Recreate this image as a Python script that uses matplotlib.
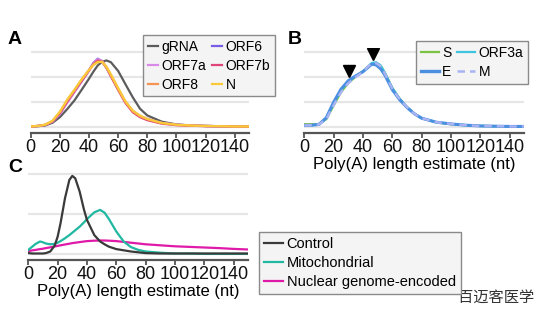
import matplotlib
matplotlib.use("Agg")
import matplotlib.pyplot as plt
from matplotlib.lines import Line2D

plt.rcParams['font.family'] = ['Liberation Sans', 'DejaVu Sans']

W, H = 541, 322

# ---------------- data ----------------
nt_ab = [0, 5, 10, 15, 20, 25, 30, 35, 40, 43, 46, 49, 52, 55, 60, 65, 70, 75, 80, 90, 100, 110, 120, 130, 140, 150]

grna  = [0.01, 0.02, 0.05, 0.16, 0.38, 0.70, 1.05, 1.48, 1.92, 2.20, 2.45, 2.60, 2.65, 2.58, 2.23, 1.70, 1.18, 0.72, 0.45, 0.20, 0.09, 0.05, 0.03, 0.02, 0.01, 0.01]
orf6  = [0.01, 0.03, 0.07, 0.20, 0.52, 0.98, 1.40, 1.82, 2.26, 2.55, 2.72, 2.62, 2.35, 2.03, 1.50, 0.98, 0.62, 0.42, 0.30, 0.15, 0.08, 0.05, 0.03, 0.02, 0.01, 0.01]
orf7a = [0.01, 0.03, 0.07, 0.20, 0.50, 0.95, 1.38, 1.80, 2.25, 2.53, 2.70, 2.64, 2.38, 2.06, 1.52, 1.00, 0.63, 0.43, 0.31, 0.15, 0.08, 0.05, 0.03, 0.02, 0.01, 0.01]
orf7b = [0.01, 0.03, 0.07, 0.21, 0.54, 1.00, 1.42, 1.84, 2.24, 2.50, 2.65, 2.60, 2.36, 2.02, 1.47, 0.95, 0.58, 0.38, 0.26, 0.12, 0.06, 0.04, 0.02, 0.02, 0.01, 0.01]
orf8  = [0.01, 0.03, 0.08, 0.23, 0.58, 1.05, 1.46, 1.88, 2.27, 2.48, 2.60, 2.58, 2.36, 2.05, 1.50, 0.98, 0.62, 0.42, 0.30, 0.14, 0.07, 0.04, 0.03, 0.02, 0.01, 0.01]
n_orf = [0.01, 0.03, 0.08, 0.24, 0.60, 1.08, 1.48, 1.90, 2.27, 2.47, 2.58, 2.60, 2.40, 2.10, 1.55, 1.02, 0.65, 0.44, 0.31, 0.15, 0.08, 0.05, 0.03, 0.02, 0.01, 0.01]

s_orf  = [0.10, 0.10, 0.11, 0.30, 0.85, 1.38, 1.75, 2.00, 2.22, 2.38, 2.52, 2.56, 2.45, 2.15, 1.55, 1.12, 0.78, 0.52, 0.34, 0.17, 0.10, 0.06, 0.03, 0.02, 0.01, 0.01]
orf3a  = [0.05, 0.06, 0.09, 0.33, 0.92, 1.45, 1.80, 2.02, 2.22, 2.38, 2.55, 2.58, 2.45, 2.15, 1.55, 1.12, 0.78, 0.52, 0.34, 0.18, 0.11, 0.06, 0.03, 0.02, 0.01, 0.01]
e_orf  = [0.05, 0.06, 0.09, 0.36, 0.98, 1.50, 1.84, 2.03, 2.20, 2.35, 2.50, 2.47, 2.32, 2.06, 1.48, 1.08, 0.77, 0.52, 0.34, 0.18, 0.11, 0.06, 0.03, 0.02, 0.01, 0.01]
m_orf  = [0.05, 0.06, 0.09, 0.30, 0.86, 1.38, 1.74, 1.98, 2.20, 2.38, 2.53, 2.55, 2.42, 2.12, 1.52, 1.10, 0.78, 0.52, 0.34, 0.18, 0.11, 0.06, 0.03, 0.02, 0.01, 0.01]

arrow_nt = [30.5, 46.6]
arrow_y = [2.24, 2.90]

nt_c = [0, 3, 5, 8, 10, 12, 15, 18, 20, 22, 25, 28, 30, 32, 35, 38, 40, 45, 49, 52, 55, 60, 65, 70, 75, 80, 90, 100, 110, 120, 130, 140, 150]
control = [0.03, 0.02, 0.02, 0.02, 0.02, 0.03, 0.07, 0.22, 0.44, 0.78, 1.40, 1.86, 1.96, 1.90, 1.57, 1.11, 0.86, 0.48, 0.32, 0.25, 0.19, 0.13, 0.10, 0.07, 0.05, 0.03, 0.02, 0.02, 0.02, 0.02, 0.02, 0.02, 0.02]
mito    = [0.11, 0.20, 0.26, 0.32, 0.30, 0.27, 0.25, 0.26, 0.29, 0.33, 0.40, 0.48, 0.54, 0.60, 0.69, 0.80, 0.88, 1.05, 1.11, 1.04, 0.88, 0.57, 0.32, 0.18, 0.11, 0.07, 0.04, 0.02, 0.02, 0.01, 0.01, 0.01, 0.01]
nuclear = [0.08, 0.10, 0.11, 0.13, 0.14, 0.155, 0.175, 0.195, 0.21, 0.225, 0.245, 0.265, 0.28, 0.29, 0.305, 0.32, 0.33, 0.34, 0.345, 0.345, 0.34, 0.33, 0.31, 0.29, 0.27, 0.25, 0.225, 0.20, 0.185, 0.17, 0.155, 0.135, 0.12]

xticks = [0, 20, 40, 60, 80, 100, 120, 140]
xlabel = "Poly(A) length estimate (nt)"

# ---------------- figure ----------------
fig = plt.figure(figsize=(W / 100, H / 100), dpi=100)


def rect(x0, x1, ytop, ybot):
    return [x0 / W, 1 - ybot / H, (x1 - x0) / W, (ybot - ytop) / H]


SPINE = '#555555'
GRID = '#e6e6e6'


def style(ax, grid_vals, ylim):
    ax.set_xlim(0, 150)
    ax.set_ylim(*ylim)
    for s in ['top', 'right', 'left']:
        ax.spines[s].set_visible(False)
    ax.spines['bottom'].set_color(SPINE)
    ax.spines['bottom'].set_linewidth(1.6)
    ax.set_yticks([])
    ax.set_xticks(xticks)
    ax.tick_params(axis='x', length=3.5, width=1.3, color=SPINE, pad=0.5,
                   labelsize=13, labelcolor='#111111')
    for g in grid_vals:
        ax.axhline(g, color=GRID, lw=1.6, zorder=0)
    ax.patch.set_alpha(0)


leg_kw = dict(frameon=True, fancybox=False, framealpha=1, facecolor='#f4f4f4',
              edgecolor='#8a8a8a', borderaxespad=0, handletextpad=0.25,
              labelspacing=0.35, borderpad=0.35)

# Panel A
axA = fig.add_axes(rect(30.7, 249.3, 48, 133))
style(axA, [0, 1, 2, 3], (-0.252, 3.148))
seriesA = [("gRNA", grna, '#5c5c5c'), ("ORF7a", orf7a, '#d98ae8'), ("ORF8", orf8, '#f59454'),
           ("ORF6", orf6, '#7b5ce6'), ("ORF7b", orf7b, '#e0457a'), ("N", n_orf, '#f9c93a')]
draw_order = ["gRNA", "ORF6", "ORF7a", "ORF7b", "ORF8", "N"]
lookup = {s[0]: s for s in seriesA}
for name in draw_order:
    _, y, c = lookup[name]
    axA.plot(nt_ab, y, color=c, lw=1.6, solid_joinstyle='round')
handlesA = [Line2D([], [], color=c, lw=1.6) for _, _, c in seriesA]
legA = fig.legend(handlesA, [s[0] for s in seriesA], ncol=2, loc='upper left',
                  bbox_to_anchor=(142.7 / W, 1 - 35 / H), fontsize=10,
                  handlelength=0.75, columnspacing=0.4, **leg_kw)
legA.get_frame().set_linewidth(1.0)

# Panel B
axB = fig.add_axes(rect(304.3, 524.3, 48, 133))
style(axB, [0, 1, 2, 3], (-0.252, 3.148))
axB.plot(nt_ab, s_orf, color='#7cc242', lw=1.6)
axB.plot(nt_ab, orf3a, color='#3cc4e0', lw=1.6)
axB.plot(nt_ab, e_orf, color='#4a8fe0', lw=2.2)
axB.plot(nt_ab, m_orf, color='#a9b3f3', lw=1.8, ls=(0, (3, 2)))
axB.plot(arrow_nt, arrow_y, ls='none', marker='v', color='black', markersize=8.5)
axB.set_xlabel(xlabel, fontsize=12, labelpad=1)
handlesB = [Line2D([], [], color='#7cc242', lw=1.6), Line2D([], [], color='#4a8fe0', lw=2.4),
            Line2D([], [], color='#3cc4e0', lw=1.6), Line2D([], [], color='#a9b3f3', lw=1.8, ls=(0, (3, 2)))]
legB = fig.legend(handlesB, ["S", "E", "ORF3a", "M"], ncol=2, loc='upper left',
                  bbox_to_anchor=(415.7 / W, 1 - 41 / H), fontsize=10,
                  handlelength=1.3, columnspacing=0.4, **leg_kw)
legB.get_frame().set_linewidth(1.0)

# Panel C
axC = fig.add_axes(rect(28.3, 248.3, 168, 260))
style(axC, [0, 1, 2], (-0.1425, 2.1575))
axC.plot(nt_c, nuclear, color='#e01aa8', lw=1.6)
axC.plot(nt_c, mito, color='#20b8a0', lw=1.6)
axC.plot(nt_c, control, color='#3a3a3a', lw=1.6)
axC.set_xlabel(xlabel, fontsize=12, labelpad=1)
handlesC = [Line2D([], [], color='#3a3a3a', lw=1.6), Line2D([], [], color='#20b8a0', lw=1.6),
            Line2D([], [], color='#e01aa8', lw=1.6)]
legC = fig.legend(handlesC, ["Control", "Mitochondrial", "Nuclear genome-encoded"], loc='upper left',
                  bbox_to_anchor=(259 / W, 1 - 231.7 / H), fontsize=10.5,
                  handlelength=1.3, **leg_kw)
legC.get_frame().set_linewidth(1.0)

# Panel letters
for lab, x, y in [("A", 8, 40), ("B", 288, 40), ("C", 8, 168)]:
    fig.text(x / W, 1 - y / H, lab, fontsize=14, fontweight='bold', ha='left', va='center')

# watermark
fig.text(458 / W, 1 - 297 / H, "百迈客医学", fontsize=11, color='#333333', ha='left', va='center',
         family=['Noto Sans CJK SC', 'DejaVu Sans'])

fig.savefig("out.png", dpi=100)
